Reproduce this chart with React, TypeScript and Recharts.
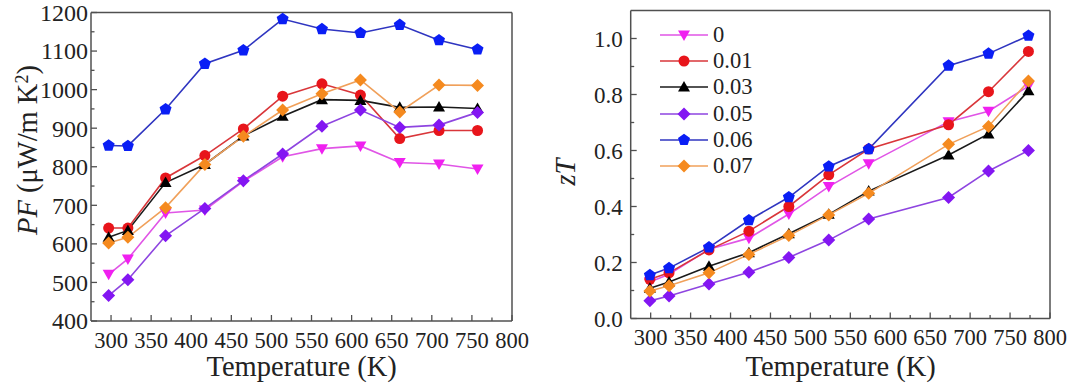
import React from "react";
import { LineChart, Line, XAxis, YAxis, Legend } from "recharts";

// temperatures (K)
const pfTemps = [297, 321, 368, 417, 465, 514, 563, 611, 660, 709, 757];
const ztTemps = [299, 323, 373, 423, 473, 523, 573, 673, 723, 773];

// power factor, µW/m K²
const pf0 = [521, 561, 680, 688, 762, 826, 847, 854, 811, 807, 794];
const pf001 = [641, 641, 771, 829, 898, 983, 1015, 986, 873, 894, 894];
const pf003 = [617, 635, 759, 806, 880, 931, 974, 972, 954, 955, 951];
const pf005 = [466, 507, 621, 692, 764, 833, 905, 947, 902, 908, 941];
const pf006 = [855, 854, 949, 1067, 1102, 1183, 1157, 1147, 1168, 1128, 1104];
const pf007 = [602, 617, 694, 806, 879, 947, 989, 1025, 942, 1012, 1011];

// figure of merit zT
const zt0 = [0.13, 0.158, 0.247, 0.287, 0.373, 0.471, 0.553, 0.703, 0.74, 0.83];
const zt001 = [0.14, 0.163, 0.245, 0.312, 0.4, 0.513, 0.605, 0.692, 0.81, 0.954];
const zt003 = [0.108, 0.13, 0.187, 0.235, 0.303, 0.372, 0.455, 0.584, 0.659, 0.813];
const zt005 = [0.063, 0.08, 0.123, 0.165, 0.218, 0.28, 0.355, 0.432, 0.527, 0.6];
const zt006 = [0.155, 0.18, 0.254, 0.351, 0.433, 0.543, 0.605, 0.903, 0.946, 1.01];
const zt007 = [0.098, 0.117, 0.163, 0.229, 0.296, 0.37, 0.447, 0.622, 0.686, 0.848];

const seriesNames = ["0", "0.01", "0.03", "0.05", "0.06", "0.07"];
const seriesKeys = ["s0", "s001", "s003", "s005", "s006", "s007"];

const xTicks = [300, 325, 350, 375, 400, 425, 450, 475, 500, 525, 550, 575, 600, 625, 650, 675, 700, 725, 750, 775, 800];
const pfTicks = [400, 450, 500, 550, 600, 650, 700, 750, 800, 850, 900, 950, 1000, 1050, 1100, 1150, 1200];
const ztTicks = [0, 0.1, 0.2, 0.3, 0.4, 0.5, 0.6, 0.7, 0.8, 0.9, 1.0];

const serif = '"Liberation Serif", "Times New Roman", serif';
const ink = "#222";
const frame = "#505050";

type Shape = "tdown" | "circle" | "tup" | "diamond" | "pentagon";

const styles: { marker: string; line: string; shape: Shape }[] = [
  { marker: "#f020f0", line: "#e055e6", shape: "tdown" },
  { marker: "#e8151b", line: "#d9363a", shape: "circle" },
  { marker: "#000000", line: "#1a1a1a", shape: "tup" },
  { marker: "#8316f2", line: "#8e45e0", shape: "diamond" },
  { marker: "#0a1ef5", line: "#2f35c0", shape: "pentagon" },
  { marker: "#f58a1f", line: "#f0a05a", shape: "diamond" },
];

const pfSeries = [pf0, pf001, pf003, pf005, pf006, pf007];
const ztSeries = [zt0, zt001, zt003, zt005, zt006, zt007];

const pfData = pfTemps.map((T, i) => {
  const row: Record<string, number> = { T };
  seriesKeys.forEach((k, j) => (row[k] = pfSeries[j][i]));
  return row;
});
const ztData = ztTemps.map((T, i) => {
  const row: Record<string, number> = { T };
  seriesKeys.forEach((k, j) => (row[k] = ztSeries[j][i]));
  return row;
});

const markerShape = (shape: Shape, cx: number, cy: number, fill: string, key?: any) => {
  if (shape === "circle") return <circle key={key} cx={cx} cy={cy} r={5.5} fill={fill} />;
  let pts: number[][] = [];
  if (shape === "tdown") pts = [[-6, -4.5], [6, -4.5], [0, 6]];
  if (shape === "tup") pts = [[-6, 4.5], [6, 4.5], [0, -6]];
  if (shape === "diamond") pts = [[0, -6.5], [6.5, 0], [0, 6.5], [-6.5, 0]];
  if (shape === "pentagon") {
    pts = [0, 1, 2, 3, 4].map((k) => {
      const a = -Math.PI / 2 + (k * 2 * Math.PI) / 5;
      return [6.3 * Math.cos(a), 6.3 * Math.sin(a)];
    });
  }
  return <polygon key={key} points={pts.map((p) => `${cx + p[0]},${cy + p[1]}`).join(" ")} fill={fill} />;
};

const makeDot = (shape: Shape, fill: string) => (props: any) => {
  const { cx, cy, index } = props;
  if (cx == null || cy == null) return <g key={index} />;
  return markerShape(shape, cx, cy, fill, index);
};

const XTick = ({ x, y, payload, dyLabel }: any) => {
  const major = payload.value % 50 === 0;
  return (
    <g>
      <line x1={x} x2={x} y1={y} y2={y - (major ? 6 : 3.5)} stroke={frame} strokeWidth={1.3} />
      {major && (
        <text x={x} y={y + dyLabel} textAnchor="middle" fontSize={22.5} fill={ink} fontFamily={serif}>
          {payload.value}
        </text>
      )}
    </g>
  );
};

const YTick = ({ x, y, payload, step, gap, digits, size }: any) => {
  const v = payload.value;
  const major = Math.abs(v / step - Math.round(v / step)) < 1e-6;
  return (
    <g>
      <line x1={x} x2={x + (major ? 6 : 3.5)} y1={y} y2={y} stroke={frame} strokeWidth={1.3} />
      {major && (
        <text x={x - gap} y={y} dy="0.35em" textAnchor="end" fontSize={size} fill={ink} fontFamily={serif}>
          {v.toFixed(digits)}
        </text>
      )}
    </g>
  );
};

const LegendBox = () => (
  <div style={{ fontFamily: serif, fontSize: 22.5, color: ink }}>
    {seriesNames.map((name, i) => (
      <div key={name} style={{ display: "flex", alignItems: "center", height: 26.2 }}>
        <svg width={53} height={26} style={{ display: "block" }}>
          <line x1={0} x2={48} y1={13} y2={13} stroke={styles[i].line} strokeWidth={1.6} />
          {markerShape(styles[i].shape, 24, 13, styles[i].marker)}
        </svg>
        <span style={{ lineHeight: "26px" }}>{name}</span>
      </div>
    ))}
  </div>
);

const renderLines = () =>
  seriesKeys.map((k, i) => (
    <Line
      key={k}
      type="linear"
      dataKey={k}
      name={seriesNames[i]}
      stroke={styles[i].line}
      strokeWidth={1.6}
      dot={makeDot(styles[i].shape, styles[i].marker)}
      activeDot={false}
      isAnimationActive={false}
    />
  ));

const axisLine = { stroke: frame, strokeWidth: 1.5 };

const title: React.CSSProperties = {
  position: "absolute",
  fontFamily: serif,
  fontSize: 28.5,
  color: ink,
  whiteSpace: "nowrap",
  lineHeight: "30px",
};

export default function App() {
  return (
    <div style={{ position: "absolute", left: 0, top: 0, width: 1080, height: 390, background: "#fff" }}>
      <div style={{ position: "absolute", left: 0, top: 0 }}>
        <LineChart width={540} height={390} data={pfData} margin={{ left: 31, right: 26, top: 10.5, bottom: 29 }}>
          <XAxis
            type="number"
            dataKey="T"
            domain={[275, 800]}
            ticks={xTicks}
            interval={0}
            height={40}
            tickSize={0}
            tickMargin={0}
            tickLine={false}
            axisLine={axisLine}
            tick={<XTick dyLabel={27} />}
          />
          <XAxis xAxisId="top" orientation="top" type="number" domain={[275, 800]} height={2} tick={false} tickLine={false} axisLine={axisLine} />
          <YAxis
            type="number"
            domain={[400, 1200]}
            ticks={pfTicks}
            interval={0}
            width={60}
            tickSize={0}
            tickMargin={0}
            tickLine={false}
            axisLine={axisLine}
            tick={<YTick step={100} gap={3} digits={0} size={24} />}
          />
          <YAxis yAxisId="right" orientation="right" type="number" domain={[400, 1200]} width={2} tick={false} tickLine={false} axisLine={axisLine} />
          {renderLines()}
        </LineChart>
      </div>
      <div style={{ position: "absolute", left: 540, top: 0 }}>
        <LineChart width={540} height={390} data={ztData} margin={{ left: 30.7, right: 28, top: 8.5, bottom: 31.5 }}>
          <XAxis
            type="number"
            dataKey="T"
            domain={[275, 800]}
            ticks={xTicks}
            interval={0}
            height={40}
            tickSize={0}
            tickMargin={0}
            tickLine={false}
            axisLine={axisLine}
            tick={<XTick dyLabel={26} />}
          />
          <XAxis xAxisId="top" orientation="top" type="number" domain={[275, 800]} height={2} tick={false} tickLine={false} axisLine={axisLine} />
          <YAxis
            type="number"
            domain={[0, 1.1]}
            ticks={ztTicks}
            interval={0}
            width={60}
            tickSize={0}
            tickMargin={0}
            tickLine={false}
            axisLine={axisLine}
            tick={<YTick step={0.2} gap={8} digits={1} size={23} />}
          />
          <YAxis yAxisId="right" orientation="right" type="number" domain={[0, 1.1]} width={2} tick={false} tickLine={false} axisLine={axisLine} />
          {renderLines()}
          <Legend
            layout="vertical"
            align="center"
            verticalAlign="middle"
            content={<LegendBox />}
            wrapperStyle={{ left: 120, top: 22, width: "auto", height: "auto" }}
          />
        </LineChart>
      </div>
      <div style={{ ...title, left: 91.7, width: 420, top: 352, textAlign: "center" }}>Temperature (K)</div>
      <div style={{ ...title, left: 630.7, width: 420, top: 352, textAlign: "center" }}>Temperature (K)</div>
      <div style={{ ...title, left: 28, top: 150, transform: "translate(-50%, -50%) rotate(-90deg)" }}>
        <i>PF</i> (μW/m K<sup style={{ fontSize: 18, verticalAlign: "9px", lineHeight: 0 }}>2</sup>)
      </div>
      <div style={{ ...title, left: 566, top: 172, transform: "translate(-50%, -50%) rotate(-90deg)" }}>
        <i>zT</i>
      </div>
    </div>
  );
}
